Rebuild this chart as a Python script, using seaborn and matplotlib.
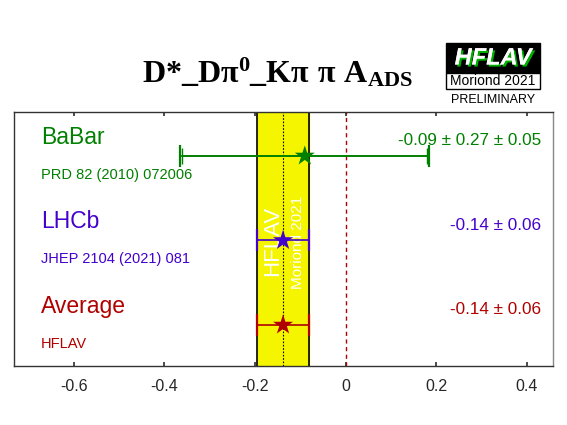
import matplotlib
matplotlib.use("Agg")
import matplotlib.pyplot as plt
import matplotlib.patches as mpatches
import matplotlib.patheffects as pe
import seaborn as sns
import pandas as pd

# values
experiments = ["BaBar", "LHCb", "Average"]
references = ["PRD 82 (2010) 072006", "JHEP 2104 (2021) 081", "HFLAV"]
centers = [-0.09, -0.138, -0.138]
stat_errors = [0.27, 0.058, 0.058]
syst_errors = [0.05, 0.0, 0.0]
value_labels = ["-0.09 \u00b1 0.27 \u00b1 0.05", "-0.14 \u00b1 0.06", "-0.14 \u00b1 0.06"]
colors = ["#008000", "#4400cc", "#b00000"]
rows = [3, 2, 1]
avg_center = -0.138
avg_error = 0.058
xticks = [-0.6, -0.4, -0.2, 0, 0.2, 0.4]

sns.set_theme(style="white")
plt.rcParams["font.family"] = ["Liberation Sans", "DejaVu Sans"]
plt.rcParams["mathtext.fontset"] = "custom"
plt.rcParams["mathtext.rm"] = "Liberation Serif:bold"
plt.rcParams["mathtext.it"] = "Liberation Serif:bold"
plt.rcParams["mathtext.bf"] = "Liberation Serif:bold"

df = pd.DataFrame({"exp": experiments, "x": centers, "y": rows,
                   "stat": stat_errors, "syst": syst_errors})
df["tot"] = (df["stat"] ** 2 + df["syst"] ** 2) ** 0.5

fig = plt.figure(figsize=(5.67, 4.25), dpi=100)
ax = fig.add_axes([0.0247, 0.1388, 0.9506, 0.5977])

# average band
ax.axvspan(avg_center - avg_error, avg_center + avg_error, color="#f5f500", zorder=0)
ax.axvline(avg_center - avg_error, color="black", lw=1.2, zorder=1)
ax.axvline(avg_center + avg_error, color="black", lw=1.2, zorder=1)
ax.axvline(avg_center, color="black", lw=0.8, ls=(0, (1.5, 1.5)), zorder=1)
ax.axvline(0, color="#b00000", lw=1.0, ls=(0, (3, 2.5)), zorder=1)

ax.text(avg_center - 0.022, 2.0, "HFLAV", rotation=90, color="white", fontsize=16,
        ha="center", va="center", zorder=2)
ax.text(avg_center + 0.032, 1.98, "Moriond 2021", rotation=90, color="white", fontsize=11,
        ha="center", va="center", zorder=2)

for i, r in df.iterrows():
    c = colors[i]
    ax.errorbar(r["x"], r["y"], xerr=r["tot"], fmt="none", ecolor=c, elinewidth=1.2,
                capsize=8, capthick=1.6, zorder=3)
    if r["syst"] > 0:
        ax.errorbar(r["x"], r["y"], xerr=r["stat"], fmt="none", ecolor=c, elinewidth=1.2,
                    capsize=6, capthick=1.0, zorder=3)
    ax.text(-0.672, r["y"] + 0.22, r["exp"], color=c, fontsize=16.5, ha="left", va="center")
    ax.text(-0.672, r["y"] - 0.22, references[i], color=c, fontsize=10.5, ha="left", va="center")
    ax.text(0.432, r["y"] + 0.18, value_labels[i], color=c, fontsize=12.3, ha="right", va="center")

sns.scatterplot(data=df, x="x", y="y", hue="exp", palette=colors, marker="*", s=230,
                edgecolor="none", legend=False, ax=ax, zorder=4)

ax.set_xlim(-0.732, 0.458)
ax.set_ylim(0.515, 3.52)
ax.set_xticks(xticks)
ax.set_xticklabels(["-0.6", "-0.4", "-0.2", "0", "0.2", "0.4"], fontsize=11.5)
ax.set_yticks([])
ax.set_xlabel("")
ax.set_ylabel("")
ax.tick_params(axis="x", direction="in", length=3, top=True, bottom=True, pad=9, color="#333333")
for s in ax.spines.values():
    s.set_color("#333333")
    s.set_linewidth(1.0)
ax.spines["right"].set_color("#888888")

# title
fig.text(0.49, 0.83, r"$\mathrm{D{*}\_D\pi^{0}\_K\pi\ \pi\ A_{ADS}}$", fontsize=23,
         ha="center", va="center", color="black")

# logo
fig.patches.append(mpatches.Rectangle((446 / 567, 1 - 73 / 425), 94 / 567, 30 / 425,
                                      transform=fig.transFigure, facecolor="black",
                                      edgecolor="black", lw=1))
fig.patches.append(mpatches.Rectangle((446 / 567, 1 - 89 / 425), 94 / 567, 16 / 425,
                                      transform=fig.transFigure, facecolor="white",
                                      edgecolor="black", lw=1))
fig.text(493 / 567, 1 - 58 / 425, "HFLAV", fontsize=17, fontweight="bold", style="italic",
         color="white", ha="center", va="center",
         path_effects=[pe.withSimplePatchShadow(offset=(1.5, -1.5), shadow_rgbFace="#00b000", alpha=1),
                       pe.Normal()])
fig.text(493 / 567, 1 - 81 / 425, "Moriond 2021", fontsize=10, color="black",
         ha="center", va="center")
fig.text(493 / 567, 1 - 100 / 425, "PRELIMINARY", fontsize=9, color="black",
         ha="center", va="center")

fig.savefig("out.png", dpi=100)
